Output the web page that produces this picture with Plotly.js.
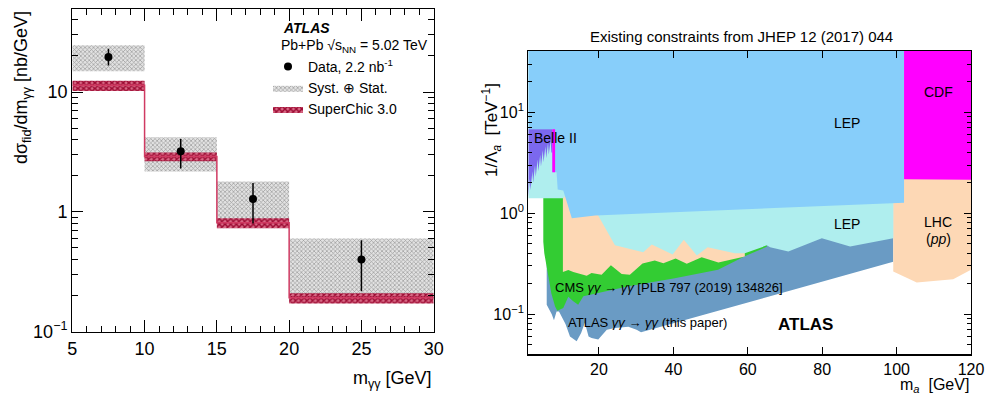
<!DOCTYPE html>
<html><head><meta charset="utf-8">
<script src="https://cdn.plot.ly/plotly-3.0.1.min.js"></script>
<style>body{margin:0;background:#fff}#c{width:986px;height:394px}</style>
</head><body><div id="c"></div>
<script>
// ---------- Left panel data ----------
const binEdges = [5, 10, 15, 20, 30];
const dataX = [7.5, 12.5, 17.5, 25];
const dataY = [19.6, 3.2, 1.28, 0.40];
const dataErrHi = [23.0, 4.06, 1.74, 0.58];
const dataErrLo = [16.6, 2.30, 0.80, 0.218];
const systHi = [24.5, 4.19, 1.79, 0.60];
const systLo = [14.9, 2.17, 0.80, 0.19];
const scCentral = [11.4, 2.9, 0.81, 0.192];
const scHi = [12.4, 3.13, 0.885, 0.209];
const scLo = [10.2, 2.64, 0.73, 0.172];

// ---------- Right panel data (boundaries of excluded regions) ----------
const TOP = 100;
const atlasX = [5.95, 7.3, 7.9, 8.6, 9.25, 10.0, 11.0, 12.2, 14.0, 15.2, 16.2, 17.2, 18.0, 19.8, 22.1, 24.3, 27.9, 30.1, 31.3, 99.1];
const atlasY = [0.124, 0.10, 0.087, 0.106, 0.106, 0.095, 0.08, 0.06, 0.054, 0.065, 0.082, 0.06, 0.058, 0.056, 0.07, 0.073, 0.075, 0.07, 0.066, 0.33];
const cmsX = [5.03, 5.03, 5.3, 5.8, 6.4, 7.2, 8.2, 8.8, 10.4, 11.75, 13.0, 14.4, 15.8, 28.3, 40, 52, 59.2, 65.1];
const cmsY = [1.41, 0.52, 0.40, 0.30, 0.236, 0.16, 0.119, 0.108, 0.115, 0.149, 0.135, 0.124, 0.15, 0.19, 0.225, 0.275, 0.375, 0.465];
const lhcLowX = [10.3, 11.75, 13.1, 14.4, 16.7, 18.0, 20.7, 23.2, 26.1, 28.3, 31.7, 35.0, 37.3, 40.6, 43.6, 47.6, 52.1, 59.2];
const lhcLowY = [0.262, 0.274, 0.262, 0.255, 0.24, 0.255, 0.245, 0.305, 0.25, 0.245, 0.318, 0.34, 0.32, 0.355, 0.315, 0.367, 0.325, 0.372];
const lhcHighX = [99.1, 105.4, 115.2, 120, 120, 99.1];
const lhcHighY = [0.264, 0.206, 0.222, 0.275, 2.2, 2.2];
const lepLowX = [1, 10.4, 11.0, 11.0, 19.7, 19.7, 24.3, 28.3, 31.9, 34.2, 39.8, 42.8, 46.3, 49.2, 56.5, 59.2, 65.1, 66.0, 70.9, 79.9, 87.5, 99.1];
const lepLowY = [1.41, 1.41, 1.5, 3, 3, 0.96, 0.48, 0.44, 0.41, 0.49, 0.39, 0.545, 0.38, 0.46, 0.40, 0.40, 0.48, 0.46, 0.417, 0.565, 0.467, 0.565];
const lepHighX = [1, 7.45, 7.45, 8.6, 8.9, 10.4, 12.7, 19.0, 102];
const lepHighY = [6.8, 6.8, 2.55, 2.55, 1.72, 1.68, 0.89, 0.95, 1.27];
const cdfX = [102, 120, 120, 102];
const cdfY = [2.17, 2.15, TOP, TOP];
const belleX = [1.0, 1.4, 1.6, 2.1, 2.3, 2.8, 3.0, 3.5, 3.7, 4.2, 4.4, 4.9, 5.1, 5.6, 5.8, 6.3, 6.5, 7.0, 7.2, 7.45, 7.45, 1.0];
const belleY = [1.45, 2.2, 1.7, 2.6, 2.0, 3.0, 2.3, 3.4, 2.6, 3.8, 2.9, 4.2, 3.2, 4.6, 3.5, 5.0, 3.8, 5.3, 4.0, 4.0, 6.8, 6.8];
const stripX = [7.45, 8.2, 8.2, 7.45];
const stripY = [2.55, 2.55, 6.8, 6.8];

// ---------- helpers ----------
function bands(lo, hi) {
  const x = [], y = [];
  for (let i = 0; i < lo.length; i++) {
    const a = binEdges[i], b = binEdges[i + 1];
    x.push(a, b, b, a, a, null);
    y.push(lo[i], lo[i], hi[i], hi[i], lo[i], null);
  }
  return {x, y};
}
function toTop(xs, ys) {
  return {x: xs.concat([xs[xs.length - 1], xs[0]]), y: ys.concat([TOP, TOP])};
}
function region(poly, color) {
  return {x: poly.x, y: poly.y, xaxis: 'x2', yaxis: 'y2', type: 'scatter', mode: 'lines',
    fill: 'toself', fillcolor: color, line: {width: 0, color: color}, showlegend: false, hoverinfo: 'skip'};
}

const sb = bands(systLo, systHi);
const rb = bands(scLo, scHi);
const stepX = binEdges.slice();
const stepY = scCentral.concat([scCentral[scCentral.length - 1]]);

const traces = [
  {x: sb.x, y: sb.y, type: 'scatter', mode: 'lines', fill: 'toself', name: 'Syst. \u2295 Stat.',
   fillcolor: '#d0d0d0', line: {width: 0, color: '#555'},
   fillpattern: {shape: 'x', fgcolor: '#9a9a9a', bgcolor: '#e2e2e2', size: 3, solidity: 0.4},
   legendrank: 2, hoverinfo: 'skip'},
  {x: rb.x, y: rb.y, type: 'scatter', mode: 'lines', fill: 'toself', name: 'SuperChic 3.0',
   fillcolor: '#a01038', line: {width: 0, color: '#a01038'},
   fillpattern: {shape: 'x', fgcolor: '#9c0a32', bgcolor: '#d86a86', size: 4, solidity: 0.6},
   legendrank: 3, hoverinfo: 'skip'},
  {x: stepX, y: stepY, type: 'scatter', mode: 'lines', line: {shape: 'hv', color: '#d03a62', width: 1.5},
   showlegend: false, hoverinfo: 'skip'},
  {x: dataX, y: dataY, type: 'scatter', mode: 'markers', name: 'Data, 2.2 nb<sup>-1</sup>',
   marker: {color: 'black', size: 8},
   error_y: {type: 'data', symmetric: false,
     array: dataErrHi.map((v, i) => v - dataY[i]), arrayminus: dataY.map((v, i) => v - dataErrLo[i]),
     color: 'black', thickness: 1.5, width: 0},
   legendrank: 1, hoverinfo: 'skip'},
  region(toTop(atlasX, atlasY), '#6a9bc4'),
  region(toTop(cmsX, cmsY), '#33cc33'),
  region(toTop(lhcLowX, lhcLowY), '#fdd8b5'),
  region({x: lhcHighX, y: lhcHighY}, '#fdd8b5'),
  region(toTop(lepLowX, lepLowY), '#afeeee'),
  region(toTop(lepHighX, lepHighY), '#87cefa'),
  region({x: cdfX, y: cdfY}, '#ff00ff'),
  region({x: belleX, y: belleY}, '#7b68ee'),
  region({x: stripX, y: stripY}, '#ff00ff')
];

const W = 986, H = 394;
const px = v => v / W, py = v => 1 - v / H;
const FONT = 'Liberation Sans, Arial, sans-serif';
function ann(text, x, y, size, opts) {
  return Object.assign({text, x: px(x), y: py(y), xref: 'paper', yref: 'paper', showarrow: false,
    font: {family: FONT, size, color: 'black'}, xanchor: 'left', yanchor: 'middle'}, opts || {});
}
const minorLog1 = [0.2,0.3,0.4,0.5,0.6,0.7,0.8,0.9,2,3,4,5,6,7,8,9,20,30,40];
const minorLog2 = [0.05,0.06,0.07,0.08,0.09,0.2,0.3,0.4,0.5,0.6,0.7,0.8,0.9,2,3,4,5,6,7,8,9,20,30,40];

const axCommon = {showline: true, linecolor: 'black', linewidth: 1.2, mirror: 'allticks', ticks: 'inside',
  tickcolor: 'black', showgrid: false, zeroline: false, tickfont: {family: FONT, color: 'black'}};

const layout = {
  width: W, height: H, margin: {l: 0, r: 0, t: 0, b: 0}, paper_bgcolor: 'white', plot_bgcolor: 'white',
  font: {family: FONT, color: 'black'},
  showlegend: true,
  legend: {x: px(268), y: py(51), xanchor: 'left', yanchor: 'top', bgcolor: 'rgba(0,0,0,0)',
    font: {family: FONT, size: 14, color: 'black'}, itemwidth: 30, tracegroupgap: 0, traceorder: 'normal'},
  xaxis: Object.assign({}, axCommon, {domain: [px(72.3), px(433.7)], anchor: 'y', range: [5, 30],
    tickvals: [5, 10, 15, 20, 25, 30], ticklen: 12, tickfont: {family: FONT, size: 18, color: 'black'},
    minor: {dtick: 1, tick0: 5, ticklen: 6, ticks: 'inside', tickcolor: 'black'}}),
  yaxis: Object.assign({}, axCommon, {domain: [1 - 331.7 / H, 1 - 9.3 / H], anchor: 'x', type: 'log', range: [-1, 1.69],
    tickvals: [0.1, 1, 10], ticktext: ['10<sup>\u22121</sup>', '1', '10'], ticklen: 11,
    tickfont: {family: FONT, size: 18, color: 'black'},
    minor: {tickmode: 'array', tickvals: minorLog1, ticklen: 6, ticks: 'inside', tickcolor: 'black'}}),
  xaxis2: Object.assign({}, axCommon, {domain: [px(528.3), px(971)], anchor: 'y2', range: [1, 120],
    tickvals: [20, 40, 60, 80, 100, 120], ticklen: 7, tickfont: {family: FONT, size: 16, color: 'black'}}),
  yaxis2: Object.assign({}, axCommon, {domain: [1 - 354.3 / H, 1 - 51 / H], anchor: 'x2', type: 'log',
    range: [Math.log10(0.04), 1.607], tickvals: [0.1, 1, 10],
    ticktext: ['10<sup>\u22121</sup>', '10<sup>0</sup>', '10<sup>1</sup>'], ticklen: 7,
    tickfont: {family: FONT, size: 16, color: 'black'},
    minor: {tickmode: 'array', tickvals: minorLog2, ticklen: 4, ticks: 'inside', tickcolor: 'black'}}),
  annotations: [
    ann('<b><i>ATLAS</i></b>', 281, 28, 14),
    ann('Pb+Pb \u221As<sub>NN</sub> = 5.02 TeV', 279, 46, 14),
    ann('d\u03C3<sub>fid</sub>/dm<sub>\u03B3\u03B3</sub> [nb/GeV]', 22, 88, 18, {xanchor: 'center', textangle: -90}),
    ann('m<sub>\u03B3\u03B3</sub> [GeV]', 434, 379, 18, {xanchor: 'right'}),
    ann('Existing constraints from JHEP 12 (2017) 044', 741, 36, 15, {xanchor: 'center'}),
    ann('1/\u039B<sub><i>a</i></sub>  [TeV<sup>\u22121</sup>]', 491, 130, 17, {xanchor: 'center', textangle: -90}),
    ann('m<sub><i>a</i></sub>  [GeV]', 971, 385, 16, {xanchor: 'right'}),
    ann('Belle II', 532, 138, 14),
    ann('LEP', 847, 123, 14, {xanchor: 'center'}),
    ann('LEP', 847, 224, 14, {xanchor: 'center'}),
    ann('CDF', 938, 92, 14, {xanchor: 'center'}),
    ann('LHC', 938, 222, 14, {xanchor: 'center'}),
    ann('(<i>pp</i>)', 938, 239, 14, {xanchor: 'center'}),
    ann('CMS <i>\u03B3\u03B3</i> \u2192 <i>\u03B3\u03B3</i> [PLB 797 (2019) 134826]', 553, 287, 13),
    ann('ATLAS <i>\u03B3\u03B3</i> \u2192 <i>\u03B3\u03B3</i> (this paper)', 566, 322, 13),
    ann('<b>ATLAS</b>', 805, 324, 17, {xanchor: 'center'})
  ]
};

Plotly.newPlot('c', traces, layout, {staticPlot: true});
</script></body></html>
